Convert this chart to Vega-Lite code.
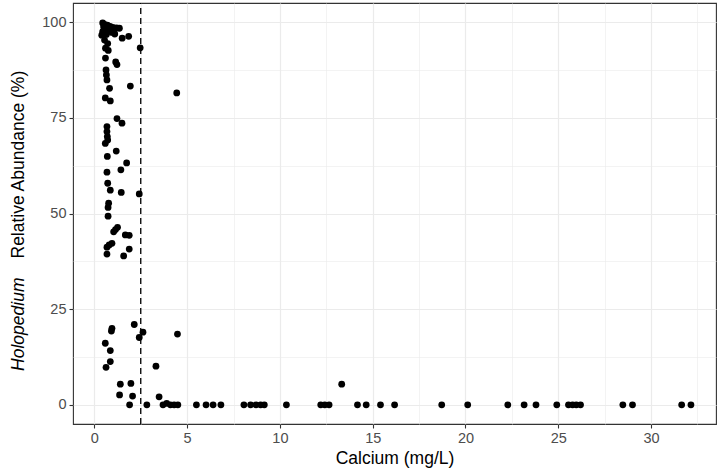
{
  "$schema": "https://vega.github.io/schema/vega-lite/v6.json",
  "width": 643,
  "height": 421,
  "autosize": {"type": "none"},
  "padding": {"left": 73, "top": 3, "right": 1, "bottom": 51},
  "background": "white",
  "config": {
    "font": "Liberation Sans",
    "view": {"stroke": "#333333", "strokeWidth": 1.1},
    "axis": {
      "domain": false,
      "grid": true,
      "labelColor": "#4D4D4D",
      "labelFontSize": 14.5,
      "labelPadding": 3,
      "titleFontSize": 17.5,
      "titleFontWeight": "normal",
      "titleColor": "#000000",
      "tickColor": "#333333",
      "tickSize": 4,
      "tickWidth": 1.1,
      "gridColor": "#EBEBEB",
      "gridWidth": 1.2
    }
  },
  "datasets": {
    "lakes": [
      {"calcium": 0.45, "abundance": 99.8}, {"calcium": 0.55, "abundance": 99.4}, {"calcium": 0.7, "abundance": 99.2},
      {"calcium": 0.5, "abundance": 98.8}, {"calcium": 0.85, "abundance": 98.9}, {"calcium": 0.62, "abundance": 98.2},
      {"calcium": 1.0, "abundance": 98.6}, {"calcium": 1.2, "abundance": 98.5}, {"calcium": 1.35, "abundance": 98.4},
      {"calcium": 0.45, "abundance": 97.5}, {"calcium": 0.78, "abundance": 97.8}, {"calcium": 0.95, "abundance": 97.3},
      {"calcium": 0.4, "abundance": 96.6}, {"calcium": 0.65, "abundance": 96.8}, {"calcium": 1.1, "abundance": 96.9},
      {"calcium": 1.5, "abundance": 95.8}, {"calcium": 1.85, "abundance": 96.3}, {"calcium": 0.55, "abundance": 95.3},
      {"calcium": 0.72, "abundance": 94.4}, {"calcium": 0.6, "abundance": 93.2}, {"calcium": 0.75, "abundance": 92.6},
      {"calcium": 2.47, "abundance": 93.3}, {"calcium": 0.6, "abundance": 90.6}, {"calcium": 1.15, "abundance": 89.6},
      {"calcium": 1.22, "abundance": 88.9}, {"calcium": 0.63, "abundance": 87.5}, {"calcium": 0.65, "abundance": 86.2},
      {"calcium": 0.68, "abundance": 84.9}, {"calcium": 0.82, "abundance": 82.7}, {"calcium": 1.94, "abundance": 83.3},
      {"calcium": 4.44, "abundance": 81.5}, {"calcium": 0.59, "abundance": 80.2}, {"calcium": 0.86, "abundance": 79.4},
      {"calcium": 1.22, "abundance": 74.8}, {"calcium": 1.49, "abundance": 73.6}, {"calcium": 0.68, "abundance": 72.7},
      {"calcium": 0.68, "abundance": 71.4}, {"calcium": 0.7, "abundance": 70.1}, {"calcium": 0.72, "abundance": 69.2},
      {"calcium": 0.59, "abundance": 68.3}, {"calcium": 1.18, "abundance": 66.3}, {"calcium": 0.7, "abundance": 64.9},
      {"calcium": 1.74, "abundance": 63.2}, {"calcium": 0.68, "abundance": 60.8}, {"calcium": 1.43, "abundance": 61.4},
      {"calcium": 0.72, "abundance": 57.9}, {"calcium": 0.86, "abundance": 56.1}, {"calcium": 1.45, "abundance": 55.5},
      {"calcium": 2.42, "abundance": 55.1}, {"calcium": 0.77, "abundance": 52.7}, {"calcium": 0.74, "abundance": 51.6},
      {"calcium": 0.74, "abundance": 49.3}, {"calcium": 1.25, "abundance": 46.4}, {"calcium": 1.14, "abundance": 45.8},
      {"calcium": 1.04, "abundance": 45.2}, {"calcium": 1.67, "abundance": 44.4}, {"calcium": 1.88, "abundance": 44.3},
      {"calcium": 0.95, "abundance": 42.2}, {"calcium": 0.8, "abundance": 41.8}, {"calcium": 0.68, "abundance": 41.2},
      {"calcium": 1.88, "abundance": 40.7}, {"calcium": 0.68, "abundance": 39.4}, {"calcium": 1.58, "abundance": 38.9},
      {"calcium": 2.15, "abundance": 21.0}, {"calcium": 0.95, "abundance": 20.0}, {"calcium": 0.92, "abundance": 19.3},
      {"calcium": 2.62, "abundance": 19.0}, {"calcium": 4.48, "abundance": 18.5}, {"calcium": 2.42, "abundance": 17.6},
      {"calcium": 0.59, "abundance": 16.1}, {"calcium": 0.86, "abundance": 14.2}, {"calcium": 0.86, "abundance": 11.3},
      {"calcium": 0.63, "abundance": 9.8}, {"calcium": 3.32, "abundance": 10.1}, {"calcium": 1.4, "abundance": 5.4},
      {"calcium": 1.97, "abundance": 5.6}, {"calcium": 13.33, "abundance": 5.4}, {"calcium": 1.36, "abundance": 2.6},
      {"calcium": 2.06, "abundance": 2.3}, {"calcium": 3.49, "abundance": 2.1}, {"calcium": 1.9, "abundance": 0},
      {"calcium": 2.83, "abundance": 0}, {"calcium": 3.7, "abundance": 0}, {"calcium": 3.9, "abundance": 0.4},
      {"calcium": 4.1, "abundance": 0}, {"calcium": 4.3, "abundance": 0}, {"calcium": 4.5, "abundance": 0},
      {"calcium": 5.5, "abundance": 0}, {"calcium": 6.02, "abundance": 0}, {"calcium": 6.4, "abundance": 0},
      {"calcium": 6.82, "abundance": 0}, {"calcium": 8.06, "abundance": 0}, {"calcium": 8.42, "abundance": 0},
      {"calcium": 8.71, "abundance": 0}, {"calcium": 8.96, "abundance": 0}, {"calcium": 9.16, "abundance": 0},
      {"calcium": 10.35, "abundance": 0}, {"calcium": 12.2, "abundance": 0}, {"calcium": 12.42, "abundance": 0},
      {"calcium": 12.65, "abundance": 0}, {"calcium": 14.18, "abundance": 0}, {"calcium": 14.65, "abundance": 0},
      {"calcium": 15.42, "abundance": 0}, {"calcium": 16.18, "abundance": 0}, {"calcium": 18.72, "abundance": 0},
      {"calcium": 20.12, "abundance": 0}, {"calcium": 22.28, "abundance": 0}, {"calcium": 23.16, "abundance": 0},
      {"calcium": 23.8, "abundance": 0}, {"calcium": 24.92, "abundance": 0}, {"calcium": 25.55, "abundance": 0},
      {"calcium": 25.77, "abundance": 0}, {"calcium": 25.97, "abundance": 0}, {"calcium": 26.2, "abundance": 0},
      {"calcium": 28.48, "abundance": 0}, {"calcium": 29.0, "abundance": 0}, {"calcium": 31.65, "abundance": 0},
      {"calcium": 32.15, "abundance": 0}
    ],
    "threshold": [{"calcium": 2.5}]
  },
  "layer": [
    {
      "data": {"name": "threshold"},
      "mark": {"type": "rule", "color": "#000000", "strokeWidth": 1.3, "strokeDash": [6, 4]},
      "encoding": {
        "x": {
          "field": "calcium",
          "type": "quantitative",
          "scale": {"domain": [-1.15, 33.5], "nice": false, "zero": false},
          "axis": {"orient": "bottom", "grid": true, "values": [2.5, 7.5, 12.5, 17.5, 22.5, 27.5, 32.5], "labels": false, "ticks": false, "title": null, "gridWidth": 0.6}
        },
        "y": {
          "datum": -5,
          "type": "quantitative",
          "scale": {"domain": [-5, 105], "nice": false, "zero": false},
          "axis": {
            "orient": "left",
            "grid": true,
            "values": [12.5, 37.5, 62.5, 87.5],
            "labels": false,
            "ticks": false,
            "gridWidth": 0.6,
            "title": "Holopedium",
            "titleFontStyle": "italic",
            "titleAngle": -90,
            "titleAlign": "right",
            "titleBaseline": "alphabetic",
            "titleX": -50,
            "titleY": 274
          }
        },
        "y2": {"datum": 105}
      }
    },
    {
      "data": {"name": "lakes"},
      "mark": {"type": "point", "filled": true, "color": "#000000", "opacity": 1, "size": 46},
      "encoding": {
        "x": {
          "field": "calcium",
          "type": "quantitative",
          "scale": {"domain": [-1.15, 33.5], "nice": false, "zero": false},
          "axis": {"orient": "bottom", "grid": true, "values": [0, 5, 10, 15, 20, 25, 30], "title": "Calcium (mg/L)", "titlePadding": 5}
        },
        "y": {
          "field": "abundance",
          "type": "quantitative",
          "scale": {"domain": [-5, 105], "nice": false, "zero": false},
          "axis": {
            "orient": "left",
            "grid": true,
            "values": [0, 25, 50, 75, 100],
            "title": "Relative Abundance (%)",
            "titleAngle": -90,
            "titleAlign": "left",
            "titleBaseline": "alphabetic",
            "titleX": -50,
            "titleY": 255
          }
        }
      }
    }
  ],
  "resolve": {
    "scale": {"x": "independent", "y": "independent"},
    "axis": {"x": "independent", "y": "independent"}
  }
}
